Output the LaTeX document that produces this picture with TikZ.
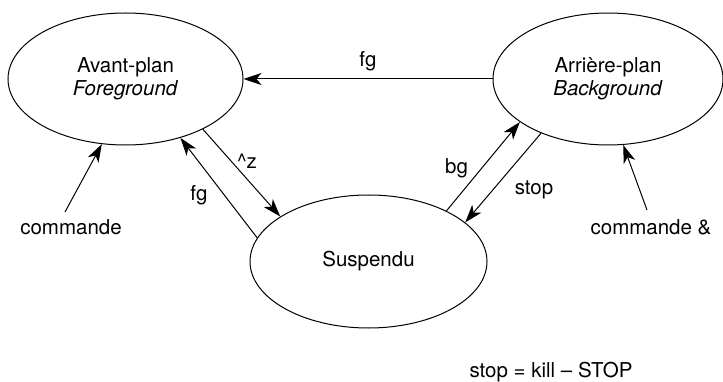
\documentclass[tikz,border=0pt]{standalone}
\usepackage{fontspec}
\setmainfont{TeX Gyre Heros}
\usetikzlibrary{shapes.geometric,arrows.meta}
\begin{document}
\begin{tikzpicture}[x=1pt,y=-1pt,
  every node/.style={font=\fontsize{20.5}{23.5}\selectfont},
  state/.style={draw,ellipse,line width=1pt,inner sep=0pt,align=center},
  lbl/.style={inner sep=0pt},
  arr/.style={line width=1pt,-{Stealth[length=18pt,width=12pt,inset=5pt]}}]
\useasboundingbox (0,0) rectangle (723,382);
\node[state,minimum width=235pt,minimum height=132pt] (fore) at (125.5,79) {Avant-plan\\\textit{Foreground}};
\node[state,minimum width=230pt,minimum height=132pt] (back) at (608,79) {Arrière-plan\\\textit{Background}};
\node[state,minimum width=237pt,minimum height=133pt] (susp) at (368.5,261.5) {Suspendu};
\node[lbl] (lfg) at (368,61.5) {fg};
\node[lbl] (lz) at (247,161) {\textasciicircum z};
\node[lbl] (lfg2) at (199,195) {fg};
\node[lbl] (lbg) at (456.5,168) {bg};
\node[lbl] (lstop) at (534,190) {stop};
\node[lbl] (cmd) at (71,227) {commande};
\node[lbl] (cmdbg) at (651,227) {commande \&};
\node[lbl] (note) at (551,372) {stop = kill – STOP};
\coordinate (c1) at (65,212);
\coordinate (c2) at (647,210);
\draw[arr] (back.west) -- (fore.east);
\draw[arr] (fore.-33.5) -- (susp.153.8);
\draw[arr] (susp.168.1) -- (fore.-47.2);
\draw[arr] (susp.33.6) -- (back.206.3);
\draw[arr] (back.219.7) -- (susp.22.2);
\draw[arr] (c1) -- (fore.-110.6);
\draw[arr] (c2) -- (back.-77.6);
\end{tikzpicture}
\end{document}
